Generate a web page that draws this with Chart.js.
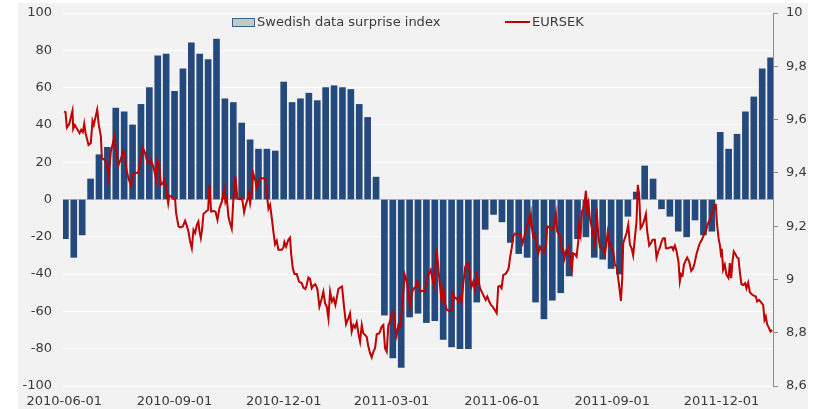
<!DOCTYPE html>
<html>
<head>
<meta charset="utf-8">
<title>Swedish data surprise index vs EURSEK</title>
<script src="https://cdn.jsdelivr.net/npm/chart.js@4.4.0/dist/chart.umd.min.js"></script>
<style>
  html, body { margin: 0; padding: 0; background: #ffffff; }
  #wrap { width: 813px; height: 409px; }
</style>
</head>
<body>
<div id="wrap"><canvas id="chart" width="813" height="409"></canvas></div>
<script>
const START_DATE = "2010-06-01";
const tickLabels = ["2010-06-01", "2010-09-01", "2010-12-01", "2011-03-01", "2011-06-01", "2011-09-01", "2011-12-01"];

// weekly readings, first week starts Mon 2010-05-31
const surpriseWeekly = [
  -21, -31, -19, 11, 24, 28, 49, 47, 40, 51, 60, 77, 78, 58, 70, 84, 78, 75, 86, 54,
  52, 41, 32, 27, 27, 26, 63, 52, 54, 57, 53, 60, 61, 60, 59, 51, 44, 12, -62, -85,
  -90, -63, -61, -66, -65, -75, -79, -80, -80, -55, -16, -8, -12, -23, -29, -31, -55, -64, -54, -50,
  -41, -21, -20, -31, -32, -37, -40, -9, 4, 18, 11, -5, -9, -17, -20, -11, -19, -17, 36, 27,
  35, 47, 55, 70, 76,
];

// days after 2010-06-01
const eursekDays = [
  0, 1.1, 2.2, 4.2, 6.9, 7.5, 8.9, 12.8, 14.2, 15.6, 16.7, 17.8, 20.3, 22.2, 23.6, 24.7, 25.6, 27.5, 28.9, 30.6,
  31.4, 33.6, 35.6, 36.9, 38.9, 40.6, 41.9, 43.3, 45.3, 47.5, 48.9, 50.3, 51.7, 53.6, 55.6, 57.2, 59.2, 61.9, 63.3, 65.6,
  67.5, 69.4, 71.1, 72.2, 73.9, 75.3, 76.7, 77.8, 79.2, 80.6, 82.2, 83.6, 85.0, 86.7, 87.5, 89.2, 91.1, 92.5, 93.3, 95.3,
  96.7, 98.9, 100.8, 102.2, 103.6, 105.0, 106.4, 107.8, 109.2, 110.6, 111.9, 112.8, 113.9, 115.0, 116.1, 118.3, 120.0, 121.1, 122.5, 124.4,
  126.1, 127.8, 129.4, 131.4, 133.3, 134.4, 135.6, 136.9, 138.3, 139.7, 141.1, 142.8, 144.4, 146.7, 148.3, 150.0, 151.4, 152.8, 153.9, 155.0,
  156.1, 157.5, 159.2, 160.6, 162.2, 163.9, 166.1, 167.8, 168.9, 170.3, 171.7, 173.1, 174.4, 175.8, 177.2, 178.6, 181.4, 182.8, 183.6, 185.0,
  186.9, 188.3, 189.2, 190.6, 192.0, 193.9, 195.8, 198.1, 199.4, 201.1, 202.2, 203.6, 205.0, 206.4, 207.8, 209.4, 211.1, 212.8, 214.4, 216.1,
  217.5, 218.9, 220.3, 221.7, 223.3, 224.7, 226.1, 227.2, 228.6, 230.0, 231.7, 233.3, 235.0, 236.9, 238.3, 239.7, 241.1, 242.5, 243.9, 245.3,
  246.7, 248.1, 249.4, 250.8, 252.2, 253.6, 255.0, 256.4, 257.8, 259.2, 260.6, 262.8, 264.7, 266.1, 267.5, 268.9, 270.3, 271.7, 273.1, 274.4,
  275.8, 277.2, 278.6, 280.0, 281.4, 283.9, 285.6, 286.7, 288.3, 290.3, 291.7, 293.1, 294.4, 295.8, 296.7, 298.9, 300.8, 302.2, 303.6, 305.6,
  306.9, 308.3, 309.2, 310.6, 312.2, 313.3, 314.7, 316.1, 317.5, 318.9, 321.1, 323.1, 324.4, 325.8, 327.2, 328.6, 330.0, 331.4, 332.8, 334.4,
  335.6, 337.2, 338.3, 339.7, 341.1, 342.5, 343.9, 345.3, 346.7, 348.1, 349.4, 351.4, 352.8, 354.4, 355.8, 357.2, 358.9, 360.6, 361.9, 363.3,
  364.7, 366.1, 367.8, 369.4, 370.6, 371.7, 373.1, 374.4, 375.8, 377.8, 379.4, 380.6, 382.2, 383.3, 384.7, 386.1, 387.5, 388.3, 389.2, 390.0,
  391.1, 392.5, 393.9, 395.3, 396.7, 398.1, 400.0, 401.7, 402.8, 405.0, 407.2, 408.6, 410.0, 411.1, 412.8, 413.9, 415.0, 416.1, 417.2, 418.3,
  419.4, 420.6, 421.7, 423.3, 424.4, 425.8, 427.2, 428.6, 429.4, 430.6, 431.7, 432.8, 434.2, 435.0, 436.1, 437.2, 438.3, 439.7, 441.1, 442.5,
  443.9, 445.3, 446.7, 448.3, 449.4, 450.8, 452.2, 453.1, 454.4, 455.8, 456.7, 457.8, 459.2, 460.6, 461.9, 463.3, 464.2, 465.3, 466.1, 467.5,
  468.9, 470.3, 471.7, 473.1, 474.4, 475.8, 477.2, 478.3, 479.4, 480.6, 481.7, 483.3, 485.0, 486.1, 487.8, 489.2, 490.6, 492.5, 493.9, 495.3,
  496.7, 498.1, 499.4, 500.8, 501.7, 503.6, 505.0, 506.7, 507.8, 509.2, 510.6, 512.2, 513.3, 514.4, 515.6, 516.7, 517.8, 519.4, 521.1, 522.8,
  524.4, 525.6, 527.2, 528.6, 530.0, 531.7, 533.3, 535.0, 536.4, 537.8, 539.2, 540.6, 541.9, 543.3, 544.4, 545.6, 546.7, 547.8, 548.3, 549.4,
  550.8, 552.2, 553.9, 555.0, 556.1, 557.2, 558.3, 559.7, 561.1, 562.2, 563.3, 564.7, 566.1, 567.8, 568.9, 570.3, 571.7, 573.3, 575.0, 576.7,
  577.8, 579.4, 581.1, 582.8, 583.9, 585.0, 586.1, 587.5, 588.9, 590.3,
];

const eursekValues = [
  9.631, 9.628, 9.570, 9.583, 9.633, 9.565, 9.580, 9.549, 9.562, 9.553, 9.584, 9.549, 9.505, 9.512, 9.595, 9.580, 9.599, 9.637, 9.578, 9.537,
  9.455, 9.449, 9.436, 9.383, 9.480, 9.512, 9.537, 9.470, 9.430, 9.455, 9.480, 9.480, 9.415, 9.380, 9.353, 9.393, 9.399, 9.401, 9.443, 9.493,
  9.474, 9.440, 9.433, 9.449, 9.428, 9.405, 9.374, 9.445, 9.430, 9.355, 9.361, 9.374, 9.343, 9.286, 9.315, 9.311, 9.303, 9.301, 9.249, 9.199,
  9.195, 9.199, 9.220, 9.202, 9.180, 9.142, 9.117, 9.186, 9.174, 9.205, 9.217, 9.180, 9.155, 9.190, 9.246, 9.255, 9.261, 9.355, 9.255, 9.257,
  9.255, 9.224, 9.267, 9.292, 9.336, 9.290, 9.305, 9.236, 9.211, 9.190, 9.305, 9.386, 9.303, 9.301, 9.305, 9.252, 9.280, 9.299, 9.320, 9.286,
  9.318, 9.399, 9.374, 9.345, 9.370, 9.380, 9.380, 9.378, 9.324, 9.265, 9.280, 9.230, 9.180, 9.132, 9.145, 9.111, 9.111, 9.120, 9.140, 9.123,
  9.149, 9.157, 9.098, 9.042, 9.020, 9.020, 8.992, 8.986, 8.969, 8.964, 8.979, 9.007, 9.002, 8.967, 8.977, 8.982, 8.964, 8.898, 8.923, 8.954,
  8.911, 8.898, 8.854, 8.954, 8.917, 8.929, 8.904, 8.929, 8.964, 8.969, 8.973, 8.898, 8.832, 8.854, 8.873, 8.804, 8.829, 8.819, 8.839, 8.798,
  8.767, 8.829, 8.798, 8.792, 8.785, 8.748, 8.723, 8.707, 8.729, 8.742, 8.794, 8.798, 8.823, 8.829, 8.742, 8.729, 8.829, 8.842, 8.867, 8.879,
  8.823, 8.789, 8.829, 8.823, 8.879, 9.017, 8.992, 8.967, 8.898, 8.954, 8.967, 8.973, 8.992, 8.973, 8.954, 8.957, 8.954, 8.998, 9.017, 9.036,
  9.005, 8.977, 9.030, 9.115, 9.030, 8.979, 8.917, 8.967, 8.911, 8.886, 8.882, 8.886, 8.948, 8.929, 8.929, 8.917, 8.936, 8.917, 8.986, 9.048,
  9.055, 9.061, 9.005, 8.973, 8.992, 8.961, 9.017, 8.998, 8.967, 8.954, 8.942, 8.923, 8.936, 8.917, 8.904, 8.898, 8.886, 8.873, 8.973, 8.976,
  8.967, 9.017, 9.020, 9.030, 9.042, 9.080, 9.117, 9.161, 9.172, 9.170, 9.170, 9.167, 9.136, 9.155, 9.180, 9.205, 9.227, 9.211, 9.242, 9.192,
  9.161, 9.170, 9.130, 9.098, 9.123, 9.111, 9.102, 9.130, 9.199, 9.195, 9.186, 9.199, 9.245, 9.180, 9.167, 9.155, 9.105, 9.111, 9.080, 9.105,
  9.098, 9.117, 9.080, 9.036, 9.098, 9.095, 9.086, 9.142, 9.205, 9.170, 9.255, 9.267, 9.299, 9.333, 9.242, 9.280, 9.230, 9.199, 9.167, 9.130,
  9.265, 9.167, 9.120, 9.120, 9.117, 9.092, 9.140, 9.174, 9.130, 9.136, 9.111, 9.105, 9.055, 9.048, 9.005, 8.954, 8.919, 9.005, 9.136, 9.155,
  9.174, 9.205, 9.130, 9.117, 9.090, 9.155, 9.217, 9.355, 9.318, 9.192, 9.199, 9.217, 9.246, 9.180, 9.127, 9.136, 9.149, 9.149, 9.082, 9.105,
  9.120, 9.142, 9.155, 9.155, 9.117, 9.117, 9.120, 9.122, 9.111, 9.127, 9.105, 9.067, 8.992, 9.020, 9.015, 9.055, 9.067, 9.082, 9.067, 9.032,
  9.042, 9.061, 9.095, 9.117, 9.136, 9.149, 9.167, 9.180, 9.205, 9.220, 9.230, 9.249, 9.280, 9.280, 9.205, 9.155, 9.130, 9.086, 9.115, 9.036,
  9.055, 9.017, 9.005, 9.061, 9.005, 9.067, 9.105, 9.095, 9.082, 9.080, 9.030, 8.982, 8.979, 8.986, 8.967, 8.988, 8.952, 8.944, 8.939, 8.936,
  8.917, 8.923, 8.914, 8.904, 8.848, 8.861, 8.832, 8.819, 8.804, 8.810,
];

const TEXT_COLOR = "#3a3a3a";
const FONT = { family: "'DejaVu Sans', sans-serif", size: 13 };

function dayOffset(iso) {
  return (Date.parse(iso) - Date.parse(START_DATE)) / 86400000;
}

const tickDays = tickLabels.map(dayOffset);
// each weekly bar sits on its Wednesday (day 1 = 2010-06-02)
const surprisePoints = surpriseWeekly.map((v, k) => ({ x: 7 * k + 1, y: v }));
const eursekPoints = eursekDays.map((d, i) => ({ x: d, y: eursekValues[i] }));

function formatComma(value) {
  return String(Math.round(value * 10) / 10).replace(".", ",");
}

// fixed axis sizes so the plot lands where the original one is
function fixWidth(width) {
  return (axis) => {
    axis.width = width;
    axis.paddingTop = 0;
    axis.paddingBottom = 0;
  };
}

const plotBackground = {
  id: "plotBackground",
  beforeDraw(chart) {
    const ctx = chart.ctx;
    ctx.save();
    ctx.fillStyle = "#f2f2f2";
    ctx.fillRect(18, 3, 790, 406);
    ctx.restore();
  },
};

// legend sits inside the plot, two items spread apart
const inPlotLegend = {
  id: "inPlotLegend",
  afterDraw(chart) {
    const ctx = chart.ctx;
    const [bars, line] = chart.data.datasets;
    ctx.save();
    ctx.font = `${FONT.size}px ${FONT.family}`;
    ctx.textBaseline = "middle";

    ctx.fillStyle = "#bfccc6";
    ctx.fillRect(232, 18, 23, 9);
    ctx.strokeStyle = "#3e6390";
    ctx.lineWidth = 1;
    ctx.strokeRect(232.5, 18.5, 22, 8);
    ctx.fillStyle = TEXT_COLOR;
    ctx.fillText(bars.label, 257, 23);

    ctx.strokeStyle = line.borderColor;
    ctx.lineWidth = 2;
    ctx.beginPath();
    ctx.moveTo(505, 22);
    ctx.lineTo(530, 22);
    ctx.stroke();
    ctx.fillText(line.label, 532, 23);
    ctx.restore();
  },
};

new Chart(document.getElementById("chart"), {
  type: "bar",
  data: {
    datasets: [
      {
        type: "bar",
        label: "Swedish data surprise index",
        data: surprisePoints,
        backgroundColor: "#24497c",
        borderWidth: 0,
        barThickness: 6,
        yAxisID: "y",
        order: 2,
      },
      {
        type: "line",
        label: "EURSEK",
        data: eursekPoints,
        borderColor: "#c00000",
        borderWidth: 2,
        pointRadius: 0,
        tension: 0,
        yAxisID: "y1",
        order: 1,
      },
    ],
  },
  options: {
    responsive: false,
    animation: false,
    layout: { padding: { top: 13, left: 0, right: 0, bottom: 0 } },
    plugins: { legend: { display: false }, tooltip: { enabled: false } },
    scales: {
      x: {
        type: "linear",
        offset: false,
        min: -1,
        max: 591,
        grid: { display: false, drawTicks: false },
        border: { display: false },
        afterBuildTicks(axis) {
          axis.ticks = tickDays.map((d) => ({ value: d }));
        },
        afterFit(axis) {
          axis.height = 23;
          axis.paddingLeft = 0;
          axis.paddingRight = 0;
        },
        ticks: {
          autoSkip: false,
          maxRotation: 0,
          padding: 8,
          color: TEXT_COLOR,
          font: FONT,
          callback(value) {
            const i = tickDays.indexOf(value);
            return i >= 0 ? tickLabels[i] : "";
          },
        },
      },
      y: {
        position: "left",
        min: -100,
        max: 100,
        border: { display: false },
        grid: {
          drawTicks: false,
          lineWidth: 1,
          color: (ctx) => (ctx.tick && ctx.tick.value === 0 ? "#b9c7dc" : "#ffffff"),
        },
        afterFit: fixWidth(63),
        ticks: { stepSize: 20, padding: 11, color: TEXT_COLOR, font: FONT },
      },
      y1: {
        position: "right",
        min: 8.6,
        max: 10,
        border: { display: true, color: "#8a8a8a", width: 1 },
        grid: { drawOnChartArea: false, drawTicks: true, tickLength: 5, color: "#8a8a8a" },
        afterFit: fixWidth(40),
        ticks: { stepSize: 0.2, padding: 8, color: TEXT_COLOR, font: FONT, callback: formatComma },
      },
    },
  },
  plugins: [plotBackground, inPlotLegend],
});
</script>
</body>
</html>
